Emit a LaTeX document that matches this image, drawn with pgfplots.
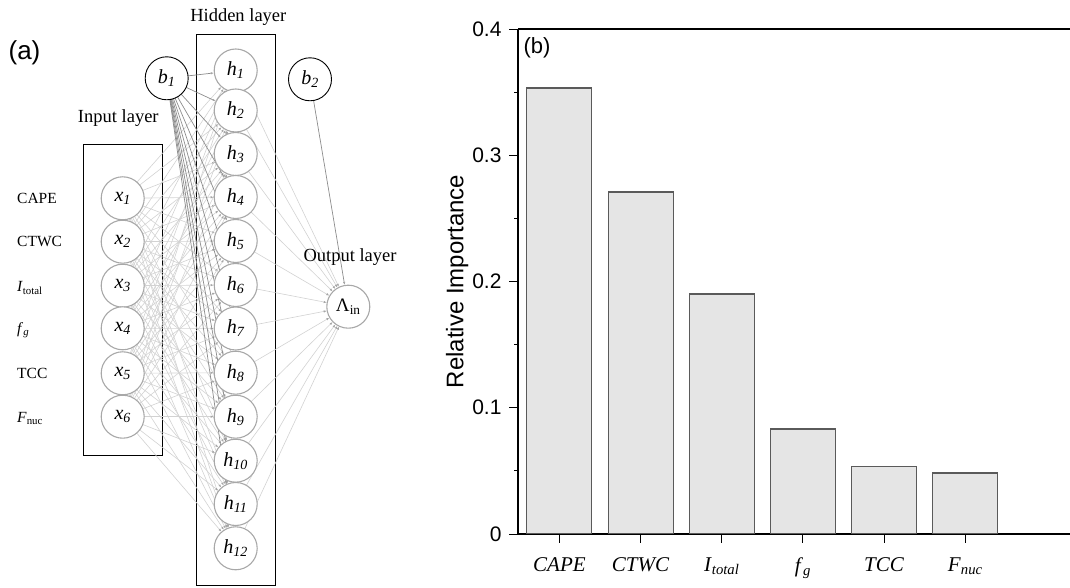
\documentclass[border=0pt]{standalone}
\usepackage{fontspec}
\setmainfont{Liberation Serif}
\newfontfamily\arial{Liberation Sans}
\usepackage{pgfplots}
\pgfplotsset{compat=1.18}
\usetikzlibrary{arrows.meta}
\definecolor{barfill}{HTML}{E5E5E5}
\definecolor{baredge}{HTML}{5A5A5A}
\definecolor{nodegray}{HTML}{A8A8A8}
\definecolor{edgegray}{HTML}{D2D2D2}
\definecolor{biasgray}{HTML}{8C8C8C}
\begin{document}
\begin{tikzpicture}[x=1pt,y=1pt,
  neuron/.style={circle, draw=nodegray, line width=1.1pt, fill=white, minimum size=43pt, inner sep=0pt, font=\fontsize{20}{22}\selectfont\itshape},
  bias/.style={circle, draw=black, line width=0.9pt, fill=white, minimum size=43pt, inner sep=0pt, font=\fontsize{20}{22}\selectfont\itshape},
  edge/.style={draw=edgegray, line width=0.6pt, shorten <=21.5pt, shorten >=22pt, -{Latex[length=3pt,width=2.4pt,color=gray!70]}},
  bedge/.style={draw=biasgray, line width=0.7pt, shorten <=21.5pt, shorten >=22pt, -{Latex[length=3pt,width=2.4pt,color=gray!70]}}]
\path[use as bounding box] (0,0) rectangle (1070,588);
% ---------- panel (a): network diagram ----------
\foreach \j/\y in {1/517.5,2/477.5,3/434,4/391,5/347,6/303,7/259.5,8/215.3,9/171.3,10/127.3,11/84,12/39.7}{\coordinate (h\j) at (235.7,\y);}
\foreach \i/\y in {1/389.7,2/346.3,3/302.3,4/259.7,5/214.7,6/171.3}{\coordinate (x\i) at (122.7,\y);}
\coordinate (b1) at (166.7,509.7);
\coordinate (b2) at (310,508.7);
\coordinate (out) at (348.3,281.3);
\coordinate (axpos) at (518,54);
\draw[black, line width=0.9pt] (196,3) rectangle (275.3,554);
\draw[black, line width=0.9pt] (83.3,132.3) rectangle (162.3,444);
\foreach \i in {1,...,6}{\foreach \j in {1,...,12}{\draw[edge] (x\i) -- (h\j);}}
\foreach \j in {1,...,12}{\draw[edge] (h\j) -- (out);}
\foreach \j in {1,...,12}{\draw[bedge] (b1) -- (h\j);}
\draw[bedge] (b2) -- (out);
\foreach \j in {1,...,12}{\node[neuron] at (h\j) {h\textsubscript{\j}};}
\foreach \i in {1,...,6}{\node[neuron] at (x\i) {x\textsubscript{\i}};}
\node[bias] at (b1) {b\textsubscript{1}};
\node[bias] at (b2) {b\textsubscript{2}};
\node[neuron, font=\fontsize{19}{21}\selectfont] at (out) {Λ\textsubscript{in}};
\node[font=\fontsize{18.5}{21}\selectfont] at (238.3,571.3) {Hidden layer};
\node[font=\fontsize{18.5}{21}\selectfont] at (118.3,469.7) {Input layer};
\node[font=\fontsize{18.5}{21}\selectfont] at (350,331.3) {Output layer};
\node[font=\arial\fontsize{26}{29}\selectfont] at (24.5,535.5) {(a)};
\begin{scope}[every node/.style={anchor=west, inner sep=0pt, font=\fontsize{15.5}{18}\selectfont}]
\node at (17,389.7) {CAPE};
\node at (17,346.3) {CTWC};
\node at (17,300.3) {\textit{I}\textsubscript{total}};
\node at (17,257.7) {\textit{f}\textsubscript{\textit{g}}};
\node at (17,214.7) {TCC};
\node at (17,169.3) {\textit{F}\textsubscript{nuc}};
\end{scope}
% ---------- panel (b): bar chart ----------
\begin{axis}[
  at={(axpos)}, anchor=south west,
  scale only axis, width=552pt, height=505pt,
  xmin=-0.51, xmax=6.29, ymin=0, ymax=0.4,
  axis x line*=bottom, axis y line*=left,
  axis line style={line width=1.1pt, black},
  tick align=outside,
  xtick={0,1,2,3,4,5},
  xticklabels={{\textit{CAPE}},{\textit{CTWC}},{\textit{I}\textsubscript{\textit{total}}},{\textit{f}\textsubscript{\textit{g}}},{\textit{TCC}},{\textit{F}\textsubscript{\textit{nuc}}}},
  xticklabel style={font=\fontsize{21}{24}\selectfont, yshift=-11pt},
  ytick={0,0.1,0.2,0.3,0.4},
  minor ytick={0.05,0.15,0.25,0.35},
  major tick length=9pt, minor tick length=4pt,
  tick style={black, line width=0.9pt},
  yticklabel style={font=\arial\fontsize{21}{24}\selectfont, xshift=-4pt},
  /pgf/number format/assume math mode=true,
  ylabel={Relative Importance},
  ylabel style={font=\arial\fontsize{24}{27}\selectfont, at={(axis description cs:-0.11,0.5)}, anchor=center},
]
\addplot[ybar, bar width=0.8, bar shift=0pt, fill=barfill, draw=baredge, line width=1.1pt]
  coordinates {(0,0.3533) (1,0.2709) (2,0.1901) (3,0.0832) (4,0.0536) (5,0.0483)};
\draw[black, line width=1.1pt] (rel axis cs:0,1) -- (rel axis cs:1,1);
\end{axis}
\node[font=\arial\fontsize{22}{24}\selectfont] at (537,540) {(b)};
\end{tikzpicture}
\end{document}
